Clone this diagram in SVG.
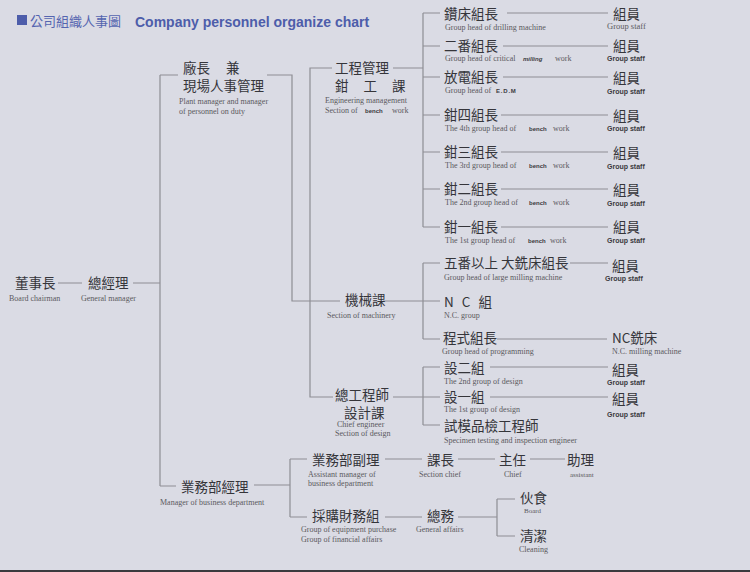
<svg xmlns="http://www.w3.org/2000/svg" width="750" height="572" viewBox="0 0 750 572">
<style>
.zh{font-family:"Noto Sans CJK TC","Noto Sans CJK SC",sans-serif;font-size:13.5px;fill:#35353a}
.en{font-family:"Liberation Serif",serif;font-size:8px;fill:#5a5a60}
.sb{font-family:"Liberation Sans",sans-serif;font-weight:bold;font-size:6px;fill:#3a3a3e}
.gs{font-family:"Liberation Sans",sans-serif;font-weight:bold;font-size:7px;fill:#3a3a3e}
.ln{stroke:#8e8e94;stroke-width:1.2;fill:none}
</style>
<rect x="0" y="0" width="750" height="572" fill="#dadbe4"/>
<rect x="0" y="570" width="750" height="2" fill="#3a3a3e"/>

<g id="title">
<rect x="17" y="15" width="10" height="10" fill="#4d5daa"/>
<text x="30" y="26" style="font-family:'Noto Sans CJK TC',sans-serif;font-size:13px;fill:#5565b0">公司組織人事圖</text>
<text x="135" y="27" style="font-family:'Liberation Sans',sans-serif;font-weight:bold;font-size:14px;fill:#4d5daa">Company personnel organize chart</text>
</g>

<g id="connectors" class="ln">
<path d="M58,283H82M133,283H160M160,75V486M160,75H178M160,486H176"/>
<path d="M267,75H292V301H340"/>
<path d="M332,68H310V397H333M393,68H423M423,13V227"/>
<path d="M423,13H440M423,46H440M423,77H440M423,115H440M423,152H440M423,189H440M423,227H440"/>
<path d="M507,13H608M503,46H608M503,77H608M501,115H608M501,152H608M501,189H608M501,227H608"/>
<path d="M383,301H440M423,263V339M423,263H440M423,339H440M570,263H608M497,339H607"/>
<path d="M393,397H440M423,367V425M423,367H440M423,425H440M490,367H608M490,397H608"/>
<path d="M254,485H290M290,459V517M290,459H307M290,517H307M385,459H422M458,459H495M530,459H565M385,517H422M458,517H497M497,499V536M497,499H515M497,536H515"/>
</g>

<g id="chairman"><text class="zh" x="15" y="288">董事長</text><text class="en" x="9" y="301">Board chairman</text></g>
<g id="general-manager"><text class="zh" x="88" y="288">總經理</text><text class="en" x="81" y="301">General manager</text></g>

<g id="plant-manager">
<text class="zh" x="183" y="73" word-spacing="13">廠長 兼</text>
<text class="zh" x="183" y="91">現場人事管理</text>
<text class="en" x="179" y="104">Plant manager and manager</text>
<text class="en" x="179" y="114">of personnel on duty</text>
</g>

<g id="engineering">
<text class="zh" x="335" y="73">工程管理</text>
<text class="zh" x="335" y="91" word-spacing="12">鉗 工 課</text>
<text class="en" x="325" y="103">Engineering management</text>
<text class="en" x="325" y="112.5">Section of</text><text class="sb" x="365" y="112.5">bench</text><text class="en" x="392" y="112.5">work</text>
</g>

<g id="drilling"><text class="zh" x="444" y="19">鑽床組長</text><text class="en" x="445" y="29.5">Group head of drilling machine</text></g>
<g id="drilling-staff"><text class="zh" x="613" y="19">組員</text><text class="en" x="607" y="28.5" style="font-size:8.5px">Group staff</text></g>

<g id="critical"><text class="zh" x="444" y="51">二番組長</text><text class="en" x="445" y="61">Group head of critical</text><text class="sb" x="523" y="61" font-style="italic">milling</text><text class="en" x="555" y="61">work</text></g>
<g id="critical-staff"><text class="zh" x="613" y="51">組員</text><text class="gs" x="607" y="60.5">Group staff</text></g>

<g id="edm"><text class="zh" x="444" y="82">放電組長</text><text class="en" x="445" y="93">Group head of</text><text class="sb" x="496" y="93" letter-spacing="0.8">E.D.M</text></g>
<g id="edm-staff"><text class="zh" x="613" y="83">組員</text><text class="gs" x="607" y="94">Group staff</text></g>

<g id="bench4"><text class="zh" x="444" y="120">鉗四組長</text><text class="en" x="445" y="130.5">The 4th group head of</text><text class="sb" x="529" y="130.5">bench</text><text class="en" x="553" y="130.5">work</text></g>
<g id="bench4-staff"><text class="zh" x="613" y="121">組員</text><text class="gs" x="607" y="131">Group staff</text></g>

<g id="bench3"><text class="zh" x="444" y="157">鉗三組長</text><text class="en" x="445" y="168">The 3rd group head of</text><text class="sb" x="529" y="168">bench</text><text class="en" x="553" y="168">work</text></g>
<g id="bench3-staff"><text class="zh" x="613" y="158">組員</text><text class="gs" x="607" y="169">Group staff</text></g>

<g id="bench2"><text class="zh" x="444" y="194">鉗二組長</text><text class="en" x="445" y="205">The 2nd group head of</text><text class="sb" x="529" y="205">bench</text><text class="en" x="553" y="205">work</text></g>
<g id="bench2-staff"><text class="zh" x="613" y="195">組員</text><text class="gs" x="607" y="206">Group staff</text></g>

<g id="bench1"><text class="zh" x="444" y="232">鉗一組長</text><text class="en" x="445" y="242.5">The 1st group head of</text><text class="sb" x="528" y="242.5">bench</text><text class="en" x="550" y="242.5">work</text></g>
<g id="bench1-staff"><text class="zh" x="613" y="232">組員</text><text class="gs" x="607" y="243">Group staff</text></g>

<g id="machinery"><text class="zh" x="345" y="305">機械課</text><text class="en" x="327" y="317.5">Section of machinery</text></g>

<g id="large-milling"><text class="zh" x="444" y="268">五番以上 大銑床組長</text><text class="en" x="444" y="280">Group head of large milling machine</text></g>
<g id="large-milling-staff"><text class="zh" x="612" y="271">組員</text><text class="gs" x="605" y="281">Group staff</text></g>

<g id="nc-group"><text class="zh" x="444" y="307" word-spacing="5">N C 組</text><text class="en" x="444" y="317.5">N.C. group</text></g>

<g id="programming"><text class="zh" x="443" y="343">程式組長</text><text class="en" x="442" y="354">Group head of programming</text></g>
<g id="nc-milling"><text class="zh" x="612" y="343">NC銑床</text><text class="en" x="612" y="354">N.C. milling machine</text></g>

<g id="chief-engineer">
<text class="zh" x="335" y="400">總工程師</text>
<text class="zh" x="344" y="417.5">設計課</text>
<text class="en" x="337" y="426.5">Chief engineer</text>
<text class="en" x="335" y="435.5">Section of design</text>
</g>

<g id="design2"><text class="zh" x="444" y="373">設二組</text><text class="en" x="444" y="383.5">The 2nd group of design</text></g>
<g id="design2-staff"><text class="zh" x="612" y="375">組員</text><text class="gs" x="607" y="385">Group staff</text></g>
<g id="design1"><text class="zh" x="444" y="402">設一組</text><text class="en" x="444" y="411.5">The 1st group of design</text></g>
<g id="design1-staff"><text class="zh" x="612" y="404">組員</text><text class="gs" x="607" y="417">Group staff</text></g>
<g id="specimen"><text class="zh" x="444" y="431">試模品檢工程師</text><text class="en" x="444" y="442.5">Specimen testing and inspection engineer</text></g>

<g id="business-manager"><text class="zh" x="181" y="492">業務部經理</text><text class="en" x="160" y="505">Manager of business department</text></g>
<g id="assistant-manager"><text class="zh" x="312" y="465">業務部副理</text><text class="en" x="308" y="476.5">Assistant manager of</text><text class="en" x="308" y="486">business department</text></g>
<g id="section-chief"><text class="zh" x="427" y="465">課長</text><text class="en" x="419" y="476.5">Section chief</text></g>
<g id="chief"><text class="zh" x="499" y="465">主任</text><text class="en" x="504" y="476.5">Chief</text></g>
<g id="assistant"><text class="zh" x="567" y="465">助理</text><text class="en" x="570" y="476.5" style="font-size:7px">assistant</text></g>
<g id="purchase"><text class="zh" x="312" y="521">採購財務組</text><text class="en" x="301" y="532">Group of equipment purchase</text><text class="en" x="301" y="541.5">Group of financial affairs</text></g>
<g id="general-affairs"><text class="zh" x="427" y="521">總務</text><text class="en" x="416" y="532">General affairs</text></g>
<g id="board"><text class="zh" x="520" y="503">伙食</text><text class="en" x="524" y="513" style="font-size:7px">Board</text></g>
<g id="cleaning"><text class="zh" x="520" y="541">清潔</text><text class="en" x="519" y="551.5">Cleaning</text></g>
</svg>
